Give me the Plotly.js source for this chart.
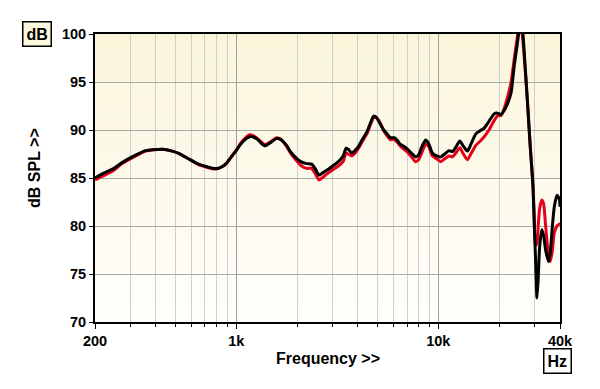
<!DOCTYPE html>
<html><head><meta charset="utf-8">
<script src="https://cdn.plot.ly/plotly-3.0.1.min.js"></script>
<style>html,body{margin:0;padding:0;background:#fff}#chart{width:600px;height:389px}</style>
</head><body><div id="chart"></div>
<script>
const freq = [200,221,248,272,312,356,392,430,482,522,586,642,709,753,807,845,892,937,1000,1050,1121,1165,1206,1277,1383,1482,1582,1661,1774,1863,1989,2089,2230,2361,2453,2567,2656,2803,2979,3201,3379,3497,3580,3733,3881,4029,4203,4431,4605,4785,4933,5166,5361,5531,5789,6063,6277,6492,6745,7031,7361,7710,7982,8262,8650,8951,9342,9812,10280,10750,11290,11740,12200,12770,13220,13940,14480,15330,16040,16860,17800,18920,19670,20420,21140,22050,22910,23780,24530,25180,25660,26160,26860,27730,28450,29360,29790,30260,30760,31200,31710,32510,33190,33960,35080,35780,36610,37480,38650,39720,40000];
const splBlack = [85.0,85.5,86.0,86.6,87.3,87.85,87.95,88.0,87.8,87.55,86.95,86.5,86.2,86.05,86.0,86.15,86.5,87.1,87.85,88.5,89.1,89.3,89.3,89.0,88.35,88.7,89.1,89.0,88.4,87.7,87.05,86.7,86.5,86.45,86.0,85.3,85.5,85.8,86.2,86.7,87.3,88.1,88.0,87.6,87.9,88.3,89.0,89.8,90.7,91.45,91.3,90.6,90.0,89.7,89.2,89.2,88.9,88.5,88.3,88.0,87.6,87.2,87.4,88.2,88.95,88.6,87.6,87.3,87.2,87.5,87.85,87.75,88.2,88.85,88.4,87.8,88.5,89.6,89.9,90.2,90.9,91.7,91.75,91.6,92.0,92.8,93.9,96.8,98.8,100.5,101,100.2,96.8,92.3,88.5,84.3,80.5,76.7,72.5,74.5,77.8,79.6,79.0,77.5,76.3,77.2,79.8,82.0,83.2,82.8,82.0];
const splRed = [84.8,85.25,85.8,86.5,87.2,87.8,87.95,88.0,87.8,87.55,86.95,86.45,86.15,86.0,85.95,86.15,86.5,87.1,87.9,88.6,89.25,89.5,89.45,89.1,88.5,88.8,89.2,89.05,88.3,87.55,86.8,86.3,86.0,86.0,85.5,84.8,85.0,85.4,85.8,86.25,86.7,87.6,87.5,87.3,87.6,88.1,88.8,89.6,90.5,91.3,91.35,90.7,89.95,89.5,89.0,89.0,88.7,88.3,88.0,87.7,87.2,86.7,86.9,87.6,88.5,88.3,87.3,87.0,86.7,87.0,87.3,87.2,87.6,88.15,87.6,86.9,87.5,88.4,88.8,89.3,90.0,91.0,91.5,91.5,92.2,93.5,95.0,97.5,99.5,101,100.8,99.5,96.5,92.3,88.5,84.5,81.5,78.0,78.2,80.0,81.8,82.7,82.3,80.0,77.0,76.3,77.3,79.3,80.0,80.2,80.2];
const xTickVals = [200,1000,10000,40000];
const xTickText = ["200","1k","10k","40k"];
const xMinorVals = [300,400,500,600,700,800,900,2000,3000,4000,5000,6000,7000,8000,9000,20000,30000];
const yTickVals = [70,75,80,85,90,95,100];

// background gradient bands (cream at top to near-white at bottom)
const shapes = [];
const nBands = 40;
for (let i = 0; i < nBands; i++) {
  const t = i / (nBands - 1);
  const r = Math.round(250 + 5 * t), g = Math.round(245 + 9 * t), b = Math.round(218 + 33 * t);
  shapes.push({type:'rect', xref:'paper', yref:'paper', x0:0, x1:1,
    y0: 1 - (i + 1) / nBands, y1: 1 - i / nBands,
    fillcolor:`rgb(${r},${g},${b})`, line:{width:0}, layer:'below'});
}

const fam = '"Liberation Sans", Arial, sans-serif';
const tickFont = {family:fam, size:14.5, color:'#000', weight:'bold'};
const titleFont = {family:fam, size:16, color:'#000', weight:'bold'};
const traces = [
  {x:freq, y:splRed, type:'scatter', mode:'lines', line:{color:'#e3001b', width:3, shape:'spline', smoothing:0.6}, hoverinfo:'skip'},
  {x:freq, y:splBlack, type:'scatter', mode:'lines', line:{color:'#000000', width:3, shape:'spline', smoothing:0.6}, hoverinfo:'skip'}
];
const layout = {
  width:600, height:389,
  margin:{l:95, r:40, t:34, b:67},
  paper_bgcolor:'#ffffff', plot_bgcolor:'#fffdf0',
  showlegend:false,
  font: tickFont,
  shapes: shapes,
  xaxis:{type:'log', range:[Math.log10(200), Math.log10(40000)], tickmode:'array', tickvals:xTickVals, ticktext:xTickText,
    ticks:'outside', ticklen:5, tickwidth:1, tickcolor:'#000', showgrid:true, gridcolor:'#a0a0a0', gridwidth:1,
    showline:true, linecolor:'#000', linewidth:2, mirror:true, zeroline:false,
    tickfont:tickFont,
    minor:{tickmode:'array', tickvals:xMinorVals, ticks:'outside', ticklen:3, tickcolor:'#000', showgrid:true, gridcolor:'#cfcfcf', gridwidth:1}},
  yaxis:{range:[70,100], tickmode:'array', tickvals:yTickVals, ticks:'outside', ticklen:4, tickcolor:'#000',
    showgrid:true, gridcolor:'#a8a8a8', gridwidth:1, showline:true, linecolor:'#000', linewidth:2, mirror:true, zeroline:false,
    tickfont:tickFont},
  annotations:[
    {text:'dB SPL >>', xref:'paper', yref:'paper', x:-0.129, y:0.535, textangle:-90, showarrow:false, xanchor:'center', yanchor:'middle',
      font:titleFont},
    {text:'Frequency >>', xref:'paper', yref:'paper', x:0.5, y:-0.125, showarrow:false, xanchor:'center', yanchor:'middle',
      font:titleFont},
    {text:'dB', xref:'paper', yref:'paper', x:-0.125, y:1.0, showarrow:false, xanchor:'center', yanchor:'middle',
      bgcolor:'#fcf8e0', bordercolor:'#000', borderwidth:1.5, borderpad:3,
      font:titleFont},
    {text:'Hz', xref:'paper', yref:'paper', x:0.994, y:-0.135, showarrow:false, xanchor:'center', yanchor:'middle',
      bgcolor:'#ffffff', bordercolor:'#000', borderwidth:1.5, borderpad:3,
      font:titleFont}
  ]
};
Plotly.newPlot('chart', traces, layout, {staticPlot:true, displayModeBar:false});
</script></body></html>
